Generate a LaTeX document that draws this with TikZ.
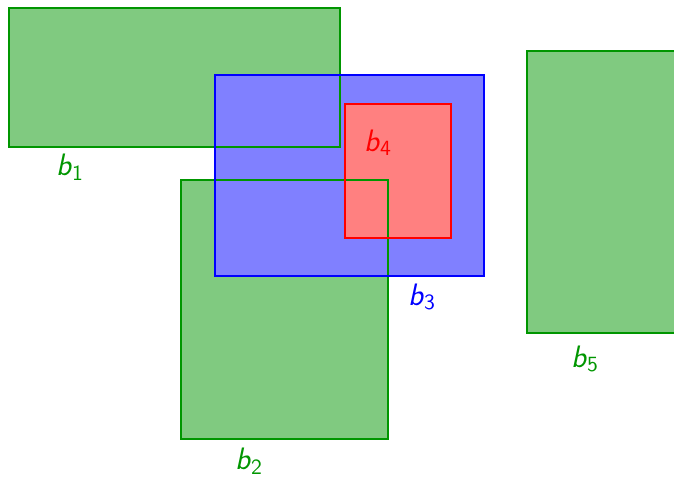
\documentclass[tikz,border=0pt]{standalone}
\usepackage{xcolor}
\definecolor{boxgreen}{RGB}{0,150,0}
\definecolor{boxblue}{RGB}{0,0,255}
\definecolor{boxred}{RGB}{255,0,0}
\usepackage{tikz}
\usetikzlibrary{positioning}
\newcommand{\boxlbl}[1]{\textsl{b}\textsubscript{#1}}

\begin{document}
\begin{tikzpicture}[x=0.5pt, y=-0.5pt, line width=0.55pt,
  lbl/.style={font=\fontsize{15.5}{18}\selectfont\sffamily, inner sep=1pt}]
  \useasboundingbox (0,0) rectangle (674,477);
  \clip (0,0) rectangle (674,477);
  % fills first
  \fill[boxgreen!50] (9,8) rectangle (340,147);
  \fill[boxgreen!50] (181,180) rectangle (388,439);
  \fill[boxgreen!50] (527,51) rectangle (690,333);
  \fill[boxblue!50] (215,75) rectangle (484,276);
  \fill[boxred!50] (345,104) rectangle (451,238);
  % then the borders
  \draw[boxgreen] (9,8) rectangle (340,147);
  \draw[boxgreen] (181,180) rectangle (388,439);
  \draw[boxgreen] (527,51) rectangle (690,333);
  \draw[boxblue] (215,75) rectangle (484,276);
  \draw[boxred] (345,104) rectangle (451,238);
  % labels
  \node[lbl, boxgreen] (lb1) at (70,167) {\boxlbl{1}};
  \node[lbl, boxgreen] (lb2) at (249,461) {\boxlbl{2}};
  \node[lbl, boxblue] (lb3) at (422,297) {\boxlbl{3}};
  \node[lbl, boxred] (lb4) at (378,143) {\boxlbl{4}};
  \node[lbl, boxgreen] (lb5) at (585,359) {\boxlbl{5}};
\end{tikzpicture}
\end{document}
